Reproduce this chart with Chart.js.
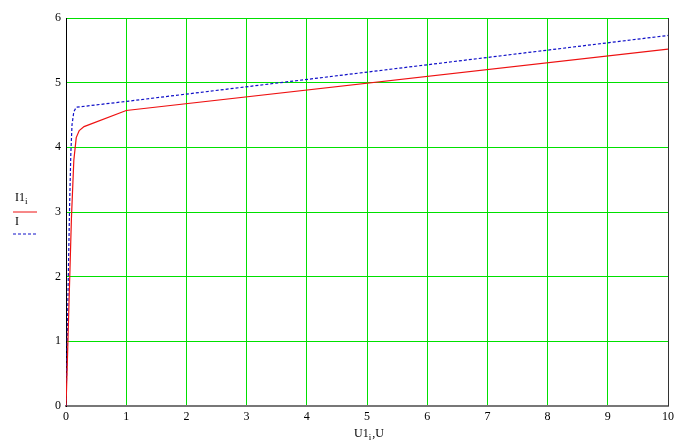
<!DOCTYPE html>
<html>
<head>
<meta charset="utf-8">
<script src="https://cdn.jsdelivr.net/npm/chart.js@4"></script>
<style>
  html, body { margin: 0; padding: 0; background: #fff; }
  #wrap { width: 680px; height: 444px; }
</style>
</head>
<body>
<div id="wrap"><canvas id="chart" width="680" height="444"></canvas></div>
<script>
// I1_i (solid red) - measured points
const u1 = [0, 0.02, 0.05, 0.09, 0.13, 0.17, 0.22, 0.3, 1, 10];
const i1 = [0, 0.6, 1.6, 2.9, 3.8, 4.15, 4.26, 4.32, 4.57, 5.52];

// I (dashed blue)
const uI = [0, 0.02, 0.04, 0.06, 0.08, 0.1, 0.13, 0.17, 1, 10];
const iI = [0, 1.0, 2.1, 3.1, 3.9, 4.35, 4.55, 4.62, 4.71, 5.73];

const xTicks = [0, 1, 2, 3, 4, 5, 6, 7, 8, 9, 10];
const yTicks = [0, 1, 2, 3, 4, 5, 6];

const serif = '"Liberation Serif", "Times New Roman", serif';
const red = '#ee1111';
const blue = '#1010c8';

function toPoints(xs, ys) {
    return xs.map(function(x, k) { return { x: x, y: ys[k] }; });
}

// text with a small subscript after it, returns the x where it ends
function subText(ctx, main, sub, x, y) {
    ctx.font = '12px ' + serif;
    ctx.fillText(main, x, y);
    x += ctx.measureText(main).width;
    ctx.font = '9px ' + serif;
    ctx.fillText(sub, x, y + 3);
    return x + ctx.measureText(sub).width;
}

// draws the left legend, x title and right border like the original
const extras = {
    id: 'extras',
    afterDraw: function(chart) {
        const ctx = chart.ctx;
        const a = chart.chartArea;
        ctx.save();
        // right border
        ctx.strokeStyle = '#333';
        ctx.lineWidth = 1;
        ctx.beginPath();
        ctx.moveTo(a.right + 0.5, a.top);
        ctx.lineTo(a.right + 0.5, a.bottom);
        ctx.stroke();

        ctx.fillStyle = '#000';
        ctx.textBaseline = 'alphabetic';
        // legend
        subText(ctx, 'I1', 'i', 15, 201);
        ctx.strokeStyle = red;
        ctx.beginPath();
        ctx.moveTo(13, 212);
        ctx.lineTo(37, 212);
        ctx.stroke();
        ctx.font = '12px ' + serif;
        ctx.fillText('I', 15, 225);
        ctx.strokeStyle = blue;
        ctx.setLineDash([3, 2]);
        ctx.beginPath();
        ctx.moveTo(13, 234);
        ctx.lineTo(38, 234);
        ctx.stroke();
        ctx.setLineDash([]);

        // x axis title
        const cx = (a.left + a.right) / 2;
        const end = subText(ctx, 'U1', 'i', cx - 13, 437);
        ctx.font = '12px ' + serif;
        ctx.fillText(',U', end + 1, 437);
        ctx.restore();
    }
};

new Chart(document.getElementById('chart'), {
    type: 'scatter',
    data: {
        datasets: [{
            label: 'I1i',
            data: toPoints(u1, i1),
            showLine: true,
            borderColor: red,
            borderWidth: 1.2,
            pointRadius: 0,
            tension: 0
        }, {
            label: 'I',
            data: toPoints(uI, iI),
            showLine: true,
            borderColor: blue,
            borderWidth: 1.2,
            borderDash: [3, 2],
            pointRadius: 0,
            tension: 0
        }]
    },
    options: {
        responsive: false,
        animation: false,
        layout: { padding: { left: 0, top: 18, right: 12, bottom: 0 } },
        plugins: {
            legend: { display: false },
            tooltip: { enabled: false }
        },
        scales: {
            x: {
                type: 'linear',
                min: 0,
                max: 10,
                afterFit: function(scale) { scale.height = 38; },
                afterBuildTicks: function(scale) {
                    scale.ticks = xTicks.map(function(v) { return { value: v }; });
                },
                grid: { color: '#00e000', lineWidth: 1, drawTicks: false },
                border: { color: '#777', width: 2 },
                ticks: {
                    padding: 4,
                    color: '#000',
                    font: { family: serif, size: 12 }
                }
            },
            y: {
                min: 0,
                max: 6,
                afterFit: function(scale) { scale.width = 66; },
                afterBuildTicks: function(scale) {
                    scale.ticks = yTicks.map(function(v) { return { value: v }; });
                },
                grid: { color: '#00e000', lineWidth: 1, drawTicks: false },
                border: { color: '#000', width: 1 },
                ticks: {
                    padding: 5,
                    color: '#000',
                    font: { family: serif, size: 12 }
                }
            }
        }
    },
    plugins: [extras]
});
</script>
</body>
</html>
